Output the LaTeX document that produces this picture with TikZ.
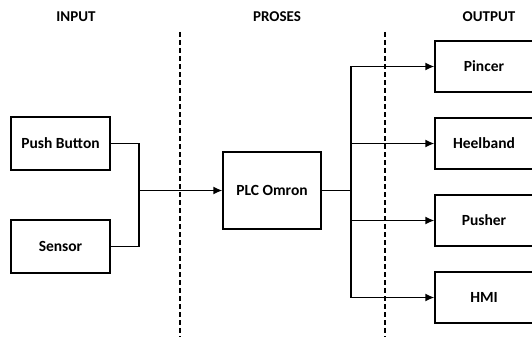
\documentclass[tikz,border=0pt]{standalone}
\usepackage{fontspec}
\setmainfont{Carlito}
\usepackage{tikz}
\usetikzlibrary{positioning,arrows.meta}

\begin{document}
\begin{tikzpicture}[
		x=1pt,y=-1pt,
		box/.style={
			draw,
			minimum width=99pt,
			minimum height=53pt,
			align=center,
			inner sep=0pt,
			font=\fontsize{15.5}{17}\selectfont\bfseries
		},
		outbox/.style={box,minimum width=98pt,minimum height=51pt},
		head/.style={font=\fontsize{15}{17}\selectfont\bfseries},
		divider/.style={line width=1.5pt,dash pattern=on 5pt off 3pt},
		>={Latex[length=9pt,width=8pt]},
		line width=1.4pt
		]
		
		\useasboundingbox (0,0) rectangle (532,337);
		\clip (0,0) rectangle (532,337);
		
		% headings
		\node[head] (hin) at (76,17) {INPUT};
		\node[head] (hpro) at (277,17) {PROSES};
		\node[head] (hout) at (489,17) {OUTPUT};
		
		% dashed dividers
		\coordinate (d1top) at (180,32);
		\coordinate (d1bot) at (180,337);
		\coordinate (d2top) at (385,32);
		\coordinate (d2bot) at (385,337);
		\draw[divider] (d1top)--(d1bot);
		\draw[divider] (d2top)--(d2bot);
		
		% input
		\node[box] (pb) at (60.5,143.5) {Push Button};
		\node[box] (sensor) at (60.5,246.5) {Sensor};
		
		% process
		\node[box,minimum width=98pt,minimum height=77pt] (plc) at (272,190.5) {PLC Omron};
		
		% output
		\node[outbox] (pincer) at (484,66.5) {Pincer};
		\node[outbox] (heelband) at (484,143.5) {Heelband};
		\node[outbox] (pusher) at (484,220.5) {Pusher};
		\node[outbox] (hmi) at (484,297.5) {HMI};
		
		\coordinate (jin) at (139,190.5);
		\coordinate (jout) at (351,190.5);
		
		\draw (pb.east) -| (jin);
		\draw (sensor.east) -| (jin);
		\draw[->] (jin)--(plc.west);
		
		\draw (plc.east)--(jout);
		\draw[->] (jout) |- (pincer.west);
		\draw[->] (jout) |- (heelband.west);
		\draw[->] (jout) |- (pusher.west);
		\draw[->] (jout) |- (hmi.west);
		
	\end{tikzpicture}
\end{document}
